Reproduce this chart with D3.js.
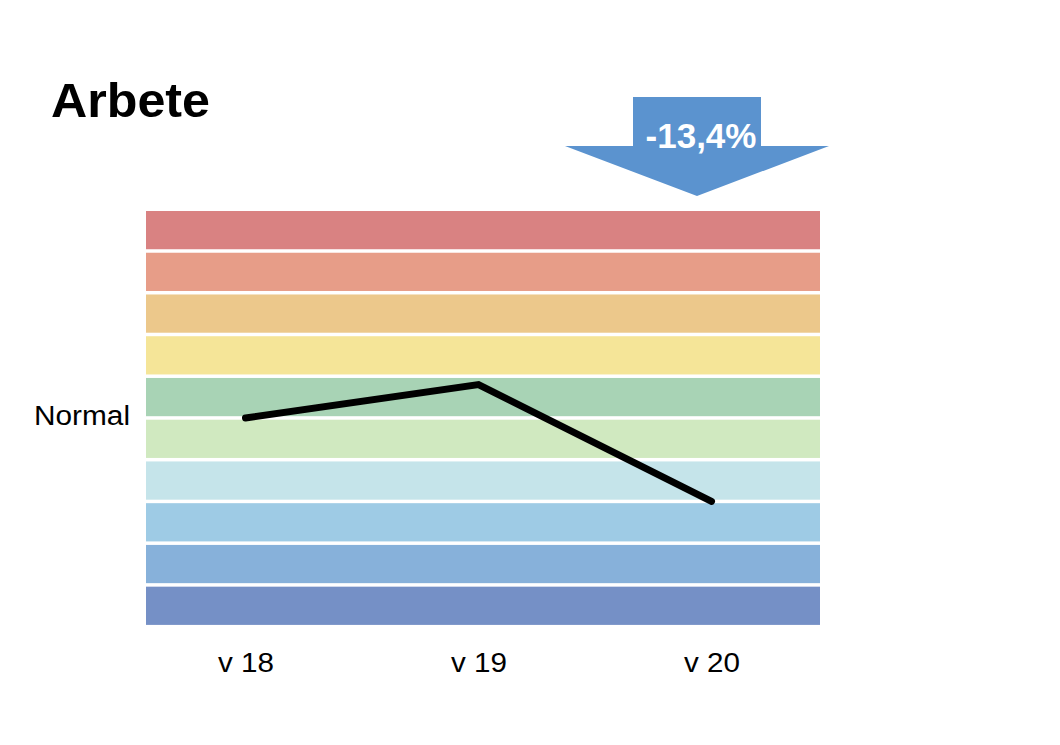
<!DOCTYPE html>
<html>
<head>
<meta charset="utf-8">
<script src="https://cdn.jsdelivr.net/npm/d3@7/dist/d3.min.js"></script>
<style>
  html, body { margin: 0; padding: 0; background: #fff; }
  svg { display: block; }
  text { font-family: "Liberation Sans", Arial, sans-serif; }
</style>
</head>
<body>
<script>
// ---- data ----
const weeks = ["v 18", "v 19", "v 20"];
const values = [100, 104, 90];            // index, 100 = normal
const bandEdges = [125, 120, 115, 110, 105, 100, 95, 90, 85, 80, 75];
const bandColors = ["#d98282", "#e79d88", "#ecc88b", "#f5e598", "#a8d3b5",
                    "#d0e9c0", "#c5e4ea", "#9ecbe5", "#87b1da", "#7590c6"];
const normalValue = 100;
const normalLabel = "Normal";
const title = "Arbete";
const changeLabel = "-13,4%";

// ---- layout ----
const W = 1060, H = 745;
const svg = d3.select("body").append("svg").attr("width", W).attr("height", H);

const y = d3.scaleLinear().domain([75, 125]).range([626.65, 209.25]);
const x = d3.scalePoint().domain(weeks).range([129, 828]).padding(0.5);
const gap = 3.5;
const bandLeft = 146, bandRight = 820;

// bands
const bands = bandColors.map((c, i) => ({ hi: bandEdges[i], lo: bandEdges[i + 1], color: c }));
svg.append("g").selectAll("rect").data(bands).join("rect")
  .attr("x", bandLeft)
  .attr("width", bandRight - bandLeft)
  .attr("y", d => y(d.hi) + gap / 2)
  .attr("height", d => y(d.lo) - y(d.hi) - gap)
  .attr("fill", d => d.color);

// line
const line = d3.line().x((d, i) => x(weeks[i])).y(d => y(d));
svg.append("path").datum(values)
  .attr("d", line)
  .attr("fill", "none")
  .attr("stroke", "#000")
  .attr("stroke-width", 7)
  .attr("stroke-linecap", "round");

// x axis labels
const xAxis = d3.axisBottom(x).tickSize(0).tickPadding(0);
const gx = svg.append("g").attr("transform", "translate(0,652)").call(xAxis);
gx.select(".domain").remove();
gx.selectAll("text")
  .attr("y", 20)
  .attr("dy", 0)
  .attr("font-size", 27)
  .attr("font-family", "Liberation Sans, Arial, sans-serif")
  .attr("fill", "#000")
  .attr("textLength", 56)
  .attr("lengthAdjust", "spacingAndGlyphs");

// y "Normal" label
svg.append("text")
  .attr("x", 130)
  .attr("y", y(normalValue) + 7)
  .attr("text-anchor", "end")
  .attr("font-size", 27)
  .attr("textLength", 96)
  .attr("lengthAdjust", "spacingAndGlyphs")
  .attr("fill", "#000")
  .text(normalLabel);

// title
svg.append("text")
  .attr("x", 51)
  .attr("y", 117)
  .attr("font-size", 49)
  .attr("font-weight", "bold")
  .attr("textLength", 159)
  .attr("lengthAdjust", "spacingAndGlyphs")
  .attr("fill", "#000")
  .text(title);

// arrow annotation
const ax = 697;
const arrowPts = [
  [ax - 64, 97], [ax + 64, 97], [ax + 64, 146], [ax + 132, 146],
  [ax, 196], [ax - 132, 146], [ax - 64, 146]
];
svg.append("path")
  .attr("d", d3.line()(arrowPts) + "Z")
  .attr("fill", "#5b93cf");
svg.append("text")
  .attr("x", ax + 4)
  .attr("y", 148)
  .attr("text-anchor", "middle")
  .attr("font-size", 35)
  .attr("font-weight", "bold")
  .attr("fill", "#fff")
  .text(changeLabel);
</script>
</body>
</html>
